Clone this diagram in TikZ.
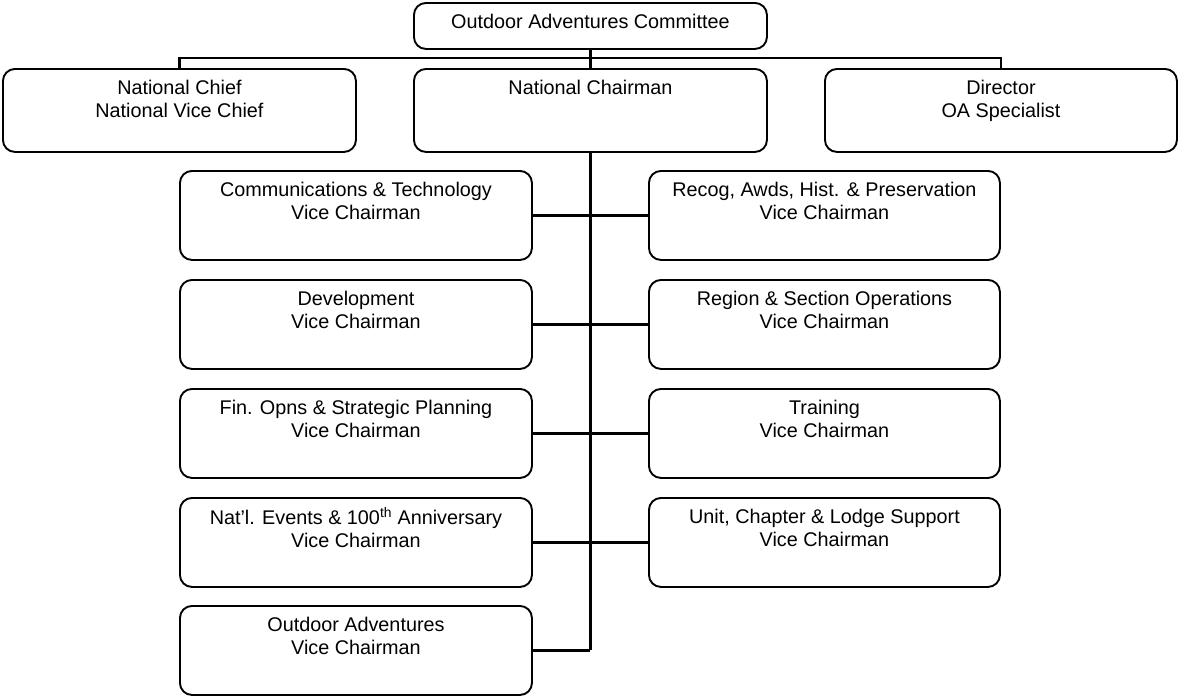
\documentclass[tikz,border=0pt]{standalone}
\usepackage{fontspec}
\setmainfont{Liberation Sans}
\tikzset{
  box/.style={draw, line width=1.9pt, rounded corners=12pt, inner sep=0pt, anchor=north west},
  lbl/.style={anchor=north, inner sep=0pt, align=center, font=\fontsize{19.8}{23}\selectfont},
  branch/.style={line width=2.5pt},
  trunk/.style={line width=3.6pt},
}
\newcommand\obox[6]{%
  \node[box, minimum width=#4pt, minimum height=#5pt] (#1) at (#2pt,-#3pt) {};
  \node[lbl] (#1t) at ([yshift=-10.2pt]#1.north) {\strut #6};
}
\begin{document}
\begin{tikzpicture}[x=1pt,y=1pt]
\useasboundingbox (0,0) rectangle (1178,-696);
% top
\obox{oac}{413}{2}{353}{46}{Outdoor Adventures Committee}
% row 2
\obox{nc}{2}{68}{353}{83}{National Chief\\National Vice Chief}
\obox{ch}{413}{68}{353}{83}{National Chairman}
\obox{dir}{824}{68}{352}{83}{Director\\OA Specialist}
% left column
\obox{l1}{179}{170}{352}{89}{Communications \& Technology\\Vice Chairman}
\obox{l2}{179}{279}{352}{89}{Development\\Vice Chairman}
\obox{l3}{179}{388}{352}{89}{Fin. Opns \& Strategic Planning\\Vice Chairman}
\obox{l4}{179}{497}{352}{89}{Nat’l. Events \& 100\textsuperscript{th} Anniversary\\Vice Chairman}
\obox{l5}{179}{605}{352}{89}{Outdoor Adventures\\Vice Chairman}
% right column
\obox{r1}{648}{170}{351}{89}{Recog, Awds, Hist. \& Preservation\\Vice Chairman}
\obox{r2}{648}{279}{351}{89}{Region \& Section Operations\\Vice Chairman}
\obox{r3}{648}{388}{351}{89}{Training\\Vice Chairman}
\obox{r4}{648}{497}{351}{89}{Unit, Chapter \& Lodge Support\\Vice Chairman}
% connectors
\coordinate (bar) at (590,-58);
\draw[branch] (oac.south) -- (ch.north);
\draw[branch] (nc.north) |- (bar) -| (dir.north);
\coordinate (tend) at (ch.south |- l5.east);
\draw[trunk] (ch.south) -- (tend);
\draw[branch] (tend) -- (l5.east);
\draw[branch] (l1.east) -- (r1.west);
\draw[branch] (l2.east) -- (r2.west);
\draw[branch] (l3.east) -- (r3.west);
\draw[branch] (l4.east) -- (r4.west);
\end{tikzpicture}
\end{document}
